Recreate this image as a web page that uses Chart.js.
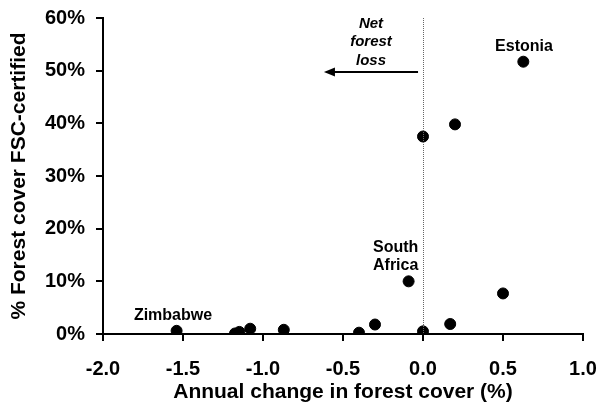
<!DOCTYPE html>
<html>
<head>
<meta charset="utf-8">
<script src="https://cdn.jsdelivr.net/npm/chart.js@4"></script>
<style>
html,body{margin:0;padding:0;background:#fff;}
canvas{display:block;}
</style>
</head>
<body>
<canvas id="c" width="599" height="408"></canvas>
<script>
// Data
const changeX = [-1.54, -1.175, -1.148, -1.08, -0.87, -0.40, -0.30, -0.09, 0.0, 0.17, 0.50, 0.0, 0.20, 0.627];
const certifiedY = [0.6, 0.1, 0.4, 1.0, 0.8, 0.25, 1.8, 10.0, 0.5, 1.9, 7.7, 37.5, 39.8, 51.7];
const xTicks = [-2.0, -1.5, -1.0, -0.5, 0.0, 0.5, 1.0];
const yTicks = [0, 10, 20, 30, 40, 50, 60];
const labelNames = ["Zimbabwe", "South Africa", "Estonia"];
const noteLines = ["Net", "forest", "loss"];

const points = changeX.map((x, i) => ({x: x, y: certifiedY[i]}));
const FONT = "'Liberation Sans', Arial, sans-serif";

const annotate = {
  id: 'annotate',
  afterDatasetsDraw(chart) {
    const ctx = chart.ctx;
    const xs = chart.scales.x, ys = chart.scales.y;
    const X = v => xs.getPixelForValue(v), Y = v => ys.getPixelForValue(v);
    ctx.save();
    // dotted zero line
    ctx.strokeStyle = '#666';
    ctx.lineWidth = 1;
    ctx.setLineDash([1, 1]);
    ctx.beginPath();
    const x0 = Math.round(X(0)) + 0.5;
    ctx.moveTo(x0, Y(60));
    ctx.lineTo(x0, Y(0));
    ctx.stroke();
    ctx.setLineDash([]);
    // arrow
    const ay = Y(49.74);
    const ax1 = X(-0.031), ax2 = X(-0.619);
    ctx.strokeStyle = '#000';
    ctx.lineWidth = 2;
    ctx.beginPath();
    ctx.moveTo(ax1, ay);
    ctx.lineTo(ax2 + 8, ay);
    ctx.stroke();
    ctx.fillStyle = '#000';
    ctx.beginPath();
    ctx.moveTo(ax2, ay);
    ctx.lineTo(ax2 + 11, ay - 4.5);
    ctx.lineTo(ax2 + 11, ay + 4.5);
    ctx.closePath();
    ctx.fill();
    // Net forest loss
    ctx.font = "italic bold 15px " + FONT;
    ctx.textAlign = 'center';
    ctx.textBaseline = 'alphabetic';
    const noteY = [58.1, 54.6, 51.07];
    noteLines.forEach((t, i) => ctx.fillText(t, X(-0.325), Y(noteY[i])));
    // country labels
    ctx.font = "bold 16px " + FONT;
    ctx.textAlign = 'center';
    ctx.fillText(labelNames[2], X(0.631), Y(53.7));
    ctx.fillText(labelNames[0], X(-1.5625), Y(2.66));
    ctx.textAlign = 'left';
    const sa = labelNames[1].split(' ');
    ctx.fillText(sa[0], X(-0.3125), Y(15.57));
    ctx.fillText(sa[1], X(-0.3125), Y(12.15));
    ctx.restore();
  }
};

new Chart(document.getElementById('c'), {
  type: 'scatter',
  data: {
    datasets: [{
      data: points,
      backgroundColor: '#000',
      borderColor: '#000',
      pointRadius: 5.5,
      pointHoverRadius: 5.5
    }]
  },
  options: {
    responsive: false,
    animation: false,
    events: [],
    layout: {padding: {top: 18, right: 16, left: 0, bottom: 0}},
    plugins: {legend: {display: false}, tooltip: {enabled: false}},
    scales: {
      x: {
        type: 'linear',
        min: -2, max: 1,
        afterBuildTicks: s => { s.ticks = xTicks.map(v => ({value: v})); },
        afterFit: s => { s.height = 74; s.paddingLeft = 0; s.paddingRight = 0; },
        grid: {drawOnChartArea: false, color: '#000', lineWidth: 2, tickLength: 7},
        border: {color: '#000', width: 2},
        ticks: {
          color: '#000', padding: 16, maxRotation: 0,
          font: {family: FONT, size: 20, weight: 'bold'},
          callback: v => Number(v).toFixed(1)
        },
        title: {
          display: true, text: 'Annual change in forest cover (%)', color: '#000',
          font: {family: FONT, size: 21, weight: 'bold'}, padding: {top: 3, bottom: 3}
        }
      },
      y: {
        type: 'linear',
        min: 0, max: 60,
        afterBuildTicks: s => { s.ticks = yTicks.map(v => ({value: v})); },
        afterFit: s => { s.width = 103; s.paddingTop = 0; s.paddingBottom = 0; },
        grid: {drawOnChartArea: false, color: '#000', lineWidth: 2, tickLength: 7},
        border: {color: '#000', width: 2},
        ticks: {
          color: '#000', padding: 11,
          font: {family: FONT, size: 20, weight: 'bold'},
          callback: v => v + '%'
        },
        title: {
          display: true, text: '% Forest cover FSC-certified', color: '#000',
          font: {family: FONT, size: 21, weight: 'bold'}, padding: {top: 7, bottom: 7}
        }
      }
    }
  },
  plugins: [annotate]
});
</script>
</body>
</html>
